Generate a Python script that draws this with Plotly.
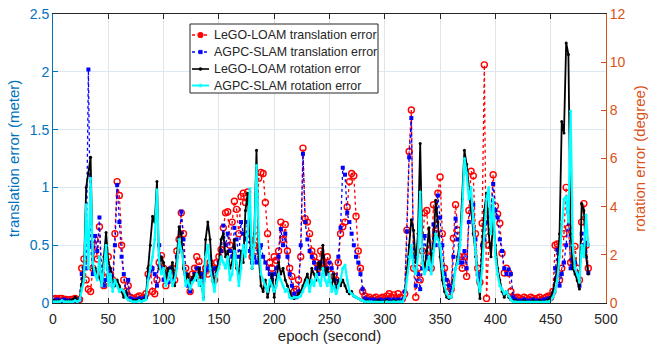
import plotly.graph_objects as go

# epoch (second), sampled every 2 s
epoch = list(range(0, 485, 2))

# translation error (meter)
lego_trans = [
    0.03, 0.04, 0.03, 0.04, 0.04, 0.03, 0.03, 0.02, 0.03, 0.03,
    0.04, 0.03, 0.03, 0.30, 0.38, 0.20, 0.12, 0.10, 0.30, 0.55,
    0.38, 0.66, 0.25, 0.15, 0.22, 0.40, 0.25, 0.20, 0.60, 1.05,
    0.93, 0.50, 0.20, 0.10, 0.15, 0.05, 0.04, 0.03, 0.05, 0.06,
    0.04, 0.05, 0.08, 0.25, 0.30, 0.10, 0.08, 0.20, 0.35, 0.41,
    0.30, 0.15, 0.25, 0.20, 0.30, 0.20, 0.45, 0.55, 0.78, 0.60,
    0.30, 0.20, 0.10, 0.25, 0.30, 0.40, 0.36, 0.20, 0.25, 0.30,
    0.25, 0.35, 0.30, 0.20, 0.35, 0.40, 0.46, 0.65, 0.78, 0.79,
    0.50, 0.70, 0.88, 0.81, 0.60, 0.92, 0.95, 0.87, 0.96, 0.55,
    0.40, 0.50, 0.45, 1.08, 1.13, 1.12, 0.87, 0.60, 0.35, 0.30,
    0.40, 0.37, 0.45, 0.70, 0.55, 0.68, 0.45, 0.30, 0.23, 0.10,
    0.12, 0.20, 0.40, 1.34, 0.73, 0.70, 0.60, 0.45, 0.40, 0.35,
    0.30, 0.45, 0.35, 0.30, 0.40, 0.33, 0.25, 0.23, 0.20, 0.35,
    0.60, 0.66, 0.70, 0.83, 1.05, 1.12, 1.10, 0.75, 0.45, 0.30,
    0.10, 0.06, 0.04, 0.05, 0.03, 0.04, 0.05, 0.03, 0.04, 0.05,
    0.04, 0.06, 0.08, 0.05, 0.07, 0.04, 0.08, 0.05, 0.04, 0.08,
    0.63, 1.31, 1.67, 0.30, 0.05, 0.30, 0.20, 0.45, 0.78, 0.80,
    0.40, 0.30, 0.85, 0.60, 0.95, 1.09, 0.60, 0.30, 0.18, 0.10,
    0.12, 0.56, 0.85, 0.63, 0.40, 0.30, 0.40, 0.23, 0.80, 1.14,
    1.10, 0.60, 0.30, 0.18, 0.69, 2.06, 0.04, 0.50, 0.80, 1.11,
    0.84, 0.77, 0.69, 0.43, 0.26, 0.30, 0.26, 0.10, 0.05, 0.04,
    0.05, 0.04, 0.03, 0.05, 0.04, 0.03, 0.05, 0.04, 0.03, 0.04,
    0.05, 0.03, 0.04, 0.05, 0.06, 0.05, 0.10, 0.50, 0.51, 0.20,
    0.30, 0.60, 1.00, 0.65, 0.35, 0.37, 0.49, 0.30, 0.20, 0.70,
    0.86, 0.50, 0.30,
]

agpc_trans = [
    0.02, 0.02, 0.03, 0.02, 0.02, 0.03, 0.02, 0.02, 0.02, 0.02,
    0.03, 0.02, 0.03, 0.25, 0.30, 0.30, 2.02, 0.50, 0.25, 0.58,
    0.45, 0.74, 0.20, 0.15, 0.20, 0.30, 0.25, 0.15, 0.50, 1.02,
    0.70, 0.40, 0.25, 0.08, 0.20, 0.04, 0.03, 0.02, 0.03, 0.04,
    0.03, 0.04, 0.05, 0.22, 0.28, 0.30, 0.25, 0.15, 0.50, 0.30,
    0.20, 0.25, 0.18, 0.30, 0.20, 0.25, 0.40, 0.50, 0.79, 0.55,
    0.25, 0.15, 0.10, 0.20, 0.25, 0.30, 0.30, 0.25, 0.20, 0.28,
    0.30, 0.40, 0.25, 0.30, 0.30, 0.35, 0.45, 0.67, 0.50, 0.60,
    0.45, 0.40, 0.65, 0.55, 0.40, 0.70, 0.60, 0.55, 0.70, 0.45,
    0.35, 0.40, 0.35, 0.45, 0.50, 0.40, 0.35, 0.30, 0.25, 0.20,
    0.25, 0.30, 0.40, 0.64, 0.50, 0.60, 0.40, 0.25, 0.15, 0.08,
    0.05, 0.10, 0.50, 1.29, 0.70, 0.55, 0.45, 0.40, 0.35, 0.30,
    0.25, 0.35, 0.40, 0.25, 0.30, 0.35, 0.30, 0.20, 0.15, 0.40,
    0.65, 1.17, 1.11, 0.78, 0.70, 0.60, 0.50, 0.40, 0.35, 0.25,
    0.12, 0.04, 0.03, 0.03, 0.02, 0.03, 0.02, 0.02, 0.03, 0.02,
    0.02, 0.03, 0.03, 0.02, 0.03, 0.02, 0.03, 0.02, 0.03, 0.10,
    0.62, 1.26, 1.60, 0.40, 0.15, 0.25, 0.12, 0.30, 0.58, 0.40,
    0.30, 0.35, 0.68, 0.50, 0.93, 0.74, 0.50, 0.25, 0.20, 0.15,
    0.10, 0.40, 0.73, 0.55, 0.35, 0.35, 0.45, 0.30, 0.70, 0.88,
    0.85, 0.55, 0.25, 0.20, 0.50, 0.55, 0.70, 0.75, 0.80, 1.03,
    0.80, 0.74, 0.55, 0.45, 0.30, 0.25, 0.29, 0.25, 0.05, 0.03,
    0.02, 0.02, 0.02, 0.03, 0.02, 0.02, 0.02, 0.03, 0.02, 0.02,
    0.02, 0.02, 0.03, 0.03, 0.04, 0.04, 0.08, 0.30, 0.46, 0.15,
    0.25, 0.35, 0.50, 0.79, 0.30, 0.37, 0.35, 0.25, 0.15, 0.60,
    0.50, 0.52, 0.26,
]

# rotation error (degree)
lego_rot = [
    0.10, 0.10, 0.05, 0.10, 0.10, 0.05, 0.10, 0.05, 0.10, 0.14,
    0.24, 0.10, 0.14, 0.72, 1.44, 4.80, 5.38, 6.05, 1.44, 1.44,
    1.20, 1.06, 0.86, 1.92, 2.93, 1.68, 1.44, 0.96, 0.72, 0.96,
    0.72, 0.48, 0.24, 0.48, 0.14, 0.10, 0.10, 0.10, 0.10, 0.14,
    0.10, 0.14, 0.24, 1.44, 2.40, 3.60, 3.36, 5.04, 1.44, 1.92,
    1.68, 0.96, 1.44, 1.20, 1.68, 0.72, 1.92, 3.17, 2.88, 1.44,
    0.96, 1.20, 0.72, 1.06, 1.20, 0.96, 1.44, 0.72, 0.24, 2.64,
    3.36, 2.64, 1.20, 0.72, 1.44, 1.68, 2.64, 2.88, 1.92, 2.16,
    1.44, 1.68, 2.64, 1.44, 1.20, 2.16, 1.68, 3.84, 4.56, 2.88,
    1.44, 2.88, 6.34, 1.92, 0.72, 0.48, 0.96, 0.24, 0.72, 1.20,
    0.24, 0.96, 1.68, 1.20, 1.44, 0.96, 0.72, 0.48, 0.24, 0.19,
    0.24, 0.38, 0.48, 0.72, 0.96, 1.20, 0.72, 1.44, 1.20, 0.96,
    1.68, 1.44, 2.40, 1.20, 1.44, 0.96, 0.72, 1.20, 0.48, 0.96,
    0.72, 0.96, 0.72, 0.48, 0.38, 0.48, 0.29, 0.24, 0.19, 0.14,
    0.10, 0.05, 0.10, 0.05, 0.05, 0.05, 0.05, 0.10, 0.05, 0.05,
    0.05, 0.10, 0.05, 0.05, 0.10, 0.05, 0.10, 0.05, 0.10, 0.24,
    1.44, 2.40, 3.46, 3.02, 1.68, 2.88, 6.62, 1.92, 1.44, 2.16,
    3.12, 1.68, 2.40, 4.27, 3.36, 1.92, 0.96, 0.48, 0.24, 0.19,
    0.24, 0.96, 1.44, 1.92, 2.64, 4.32, 6.34, 5.76, 4.80, 3.84,
    2.88, 1.92, 0.96, 0.19, 2.40, 3.84, 4.56, 2.88, 1.92, 3.55,
    2.40, 1.44, 0.96, 0.48, 0.24, 0.48, 0.24, 0.14, 0.10, 0.10,
    0.05, 0.05, 0.05, 0.10, 0.05, 0.05, 0.05, 0.10, 0.05, 0.05,
    0.10, 0.05, 0.05, 0.10, 0.14, 0.24, 0.48, 0.96, 1.44, 2.88,
    7.54, 7.06, 10.80, 10.32, 2.88, 1.44, 1.20, 0.96, 0.58, 4.13,
    3.84, 1.92, 1.20,
]

agpc_rot = [
    0.05, 0.05, 0.05, 0.05, 0.10, 0.05, 0.05, 0.05, 0.05, 0.05,
    0.10, 0.05, 0.10, 0.58, 0.96, 4.08, 1.44, 5.18, 1.68, 1.20,
    0.96, 1.92, 0.72, 1.44, 2.40, 0.72, 1.20, 0.48, 0.96, 0.72,
    0.48, 0.58, 0.48, 0.24, 0.14, 0.10, 0.05, 0.05, 0.05, 0.10,
    0.05, 0.10, 0.14, 0.96, 1.44, 1.92, 2.64, 4.70, 1.68, 1.20,
    1.44, 0.72, 0.96, 1.34, 0.72, 0.96, 1.44, 2.64, 2.16, 1.68,
    0.72, 0.96, 0.58, 0.86, 0.96, 1.20, 0.72, 0.96, 0.14, 1.92,
    2.40, 1.44, 0.96, 0.48, 1.20, 1.44, 1.92, 1.68, 1.44, 1.92,
    0.96, 1.20, 2.16, 1.68, 0.72, 1.44, 2.40, 1.92, 2.88, 4.75,
    1.44, 2.40, 5.71, 2.88, 1.20, 0.96, 0.72, 0.48, 0.96, 0.72,
    0.48, 0.72, 1.20, 0.96, 0.72, 0.48, 0.58, 0.24, 0.19, 0.24,
    0.24, 0.24, 0.29, 0.48, 0.72, 0.96, 0.48, 0.96, 0.72, 1.20,
    0.96, 0.72, 1.44, 0.96, 0.72, 1.20, 0.48, 0.72, 0.38, 0.72,
    0.96, 1.44, 1.58, 0.96, 0.48, 0.38, 0.29, 0.24, 0.19, 0.14,
    0.10, 0.05, 0.05, 0.05, 0.05, 0.02, 0.02, 0.02, 0.02, 0.02,
    0.02, 0.05, 0.02, 0.02, 0.05, 0.02, 0.05, 0.05, 0.05, 0.24,
    0.96, 1.92, 2.40, 1.44, 1.20, 1.92, 4.61, 1.68, 1.20, 1.44,
    1.92, 1.20, 2.16, 2.88, 2.64, 2.40, 1.44, 0.72, 0.38, 0.24,
    0.24, 0.72, 1.44, 1.68, 2.40, 3.84, 6.00, 5.38, 4.32, 4.80,
    3.36, 2.16, 0.96, 0.48, 1.44, 2.88, 4.32, 4.80, 2.88, 4.32,
    1.92, 1.20, 0.72, 0.58, 0.38, 0.48, 0.29, 0.14, 0.05, 0.05,
    0.02, 0.02, 0.02, 0.02, 0.02, 0.02, 0.02, 0.02, 0.02, 0.02,
    0.02, 0.02, 0.02, 0.05, 0.05, 0.10, 0.24, 0.48, 0.96, 1.92,
    3.36, 4.32, 4.42, 3.36, 7.97, 2.40, 1.44, 1.20, 0.86, 2.40,
    1.92, 3.65, 2.40,
]

series_names = [
    "LeGO-LOAM translation error",
    "AGPC-SLAM translation error",
    "LeGO-LOAM rotation error",
    "AGPC-SLAM rotation error",
]

x_ticks = list(range(0, 501, 50))
y_left_ticks = [0, 0.5, 1, 1.5, 2, 2.5]
y_left_labels = ["0", "0.5", "1", "1.5", "2", "2.5"]
y_right_ticks = [0, 2, 4, 6, 8, 10, 12]

BLUE_AX = "#0072BD"
ORANGE_AX = "#D95319"
TXT = "#262626"
FONT = "Liberation Sans, Arial, sans-serif"

W, H = 649, 347
ML, MR, MT, MB = 53, 43, 14, 44
PW, PH = W - ML - MR, H - MT - MB


def px_x(p):
    return (p - ML) / PW


def px_y(p):
    return (H - MB - p) / PH


styles = [
    dict(line=dict(color="#FF0000", width=1.3, dash="dot"),
         marker=dict(symbol="circle-open", size=6, color="#FF0000", line=dict(width=1.4))),
    dict(line=dict(color="#0000FF", width=1.3, dash="dot"),
         marker=dict(symbol="square", size=4, color="#0000FF")),
    dict(line=dict(color="#000000", width=1.8),
         marker=dict(symbol="circle", size=3, color="#000000")),
    dict(line=dict(color="#00FFFF", width=2.2),
         marker=dict(symbol="circle", size=3, color="#00FFFF")),
]
series = [lego_trans, agpc_trans, lego_rot, agpc_rot]
axes = ["y", "y", "y2", "y2"]

fig = go.Figure()
for name, vals, st, ax in zip(series_names, series, styles, axes):
    fig.add_trace(go.Scatter(
        x=epoch, y=vals, name=name, mode="lines+markers",
        line=st["line"], marker=st["marker"], yaxis=ax, showlegend=False,
    ))

# custom legend box (matches MATLAB compact legend)
shapes = [dict(
    type="rect", xref="paper", yref="paper",
    x0=px_x(190), x1=px_x(378), y0=px_y(93), y1=px_y(24),
    line=dict(color=TXT, width=1), fillcolor="white", layer="above",
)]
annotations = []
row_y = [35, 52, 69, 85.5]
leg_cols = ["#FF0000", "#0000FF", "#000000", "#00FFFF"]
leg_dash = ["dot", "dot", "solid", "solid"]
leg_w = [1.3, 1.3, 1.6, 2.0]
for i, name in enumerate(series_names):
    yy = px_y(row_y[i])
    shapes.append(dict(
        type="line", xref="paper", yref="paper",
        x0=px_x(192), x1=px_x(209), y0=yy, y1=yy, layer="above",
        line=dict(color=leg_cols[i], width=leg_w[i], dash=leg_dash[i]),
    ))
    if i == 0:
        shapes.append(dict(
            type="circle", xref="paper", yref="paper", layer="above",
            xsizemode="pixel", ysizemode="pixel",
            xanchor=px_x(200.5), yanchor=yy, x0=-2.5, x1=2.5, y0=-2.5, y1=2.5,
            line=dict(color="#FF0000", width=1.2), fillcolor="#FF0000",
        ))
    elif i == 1:
        shapes.append(dict(
            type="rect", xref="paper", yref="paper", layer="above",
            xsizemode="pixel", ysizemode="pixel",
            xanchor=px_x(200.5), yanchor=yy, x0=-1.8, x1=1.8, y0=-1.8, y1=1.8,
            line=dict(color="#0000FF", width=0.5), fillcolor="#0000FF",
        ))
    else:
        shapes.append(dict(
            type="circle", xref="paper", yref="paper", layer="above",
            xsizemode="pixel", ysizemode="pixel",
            xanchor=px_x(200.5), yanchor=yy, x0=-1.5, x1=1.5, y0=-1.5, y1=1.5,
            line=dict(color=leg_cols[i], width=0.5), fillcolor=leg_cols[i],
        ))
    annotations.append(dict(
        text=name, xref="paper", yref="paper", x=px_x(212), y=yy,
        xanchor="left", yanchor="middle", showarrow=False,
        font=dict(family=FONT, size=12.4, color=TXT),
    ))

fig.update_layout(
    width=W, height=H,
    margin=dict(l=ML, r=MR, t=MT, b=MB, autoexpand=False),
    paper_bgcolor="white", plot_bgcolor="white",
    font=dict(family=FONT, size=13, color=TXT),
    showlegend=False,
    shapes=shapes,
    annotations=annotations,
    xaxis=dict(
        range=[0, 500], tickvals=x_ticks,
        showline=True, linecolor=TXT, linewidth=1, mirror="ticks",
        ticks="inside", ticklen=5, tickcolor=TXT,
        showgrid=True, gridcolor="#e3e3e3", zeroline=False,
        tickfont=dict(size=14, color=TXT), ticklabelstandoff=3,
        title=dict(text="epoch (second)", font=dict(size=15, color=TXT), standoff=3),
        automargin=False,
    ),
    yaxis=dict(
        range=[0, 2.5], tickvals=y_left_ticks, ticktext=y_left_labels,
        showline=True, linecolor=BLUE_AX, linewidth=1,
        ticks="inside", ticklen=5, tickcolor=BLUE_AX,
        showgrid=True, gridcolor="#dbe8f4", zeroline=False,
        tickfont=dict(size=14, color=BLUE_AX),
        title=dict(text="translation error (meter)", font=dict(size=15, color=BLUE_AX), standoff=6),
        automargin=False,
    ),
    yaxis2=dict(
        range=[0, 12], tickvals=y_right_ticks,
        overlaying="y", side="right",
        showline=True, linecolor=ORANGE_AX, linewidth=1,
        ticks="inside", ticklen=5, tickcolor=ORANGE_AX,
        showgrid=False, zeroline=False,
        tickfont=dict(size=14, color=ORANGE_AX),
        title=dict(text="rotation error (degree)", font=dict(size=15, color=ORANGE_AX), standoff=9),
        automargin=False,
    ),
)

fig.write_html("out.html")
